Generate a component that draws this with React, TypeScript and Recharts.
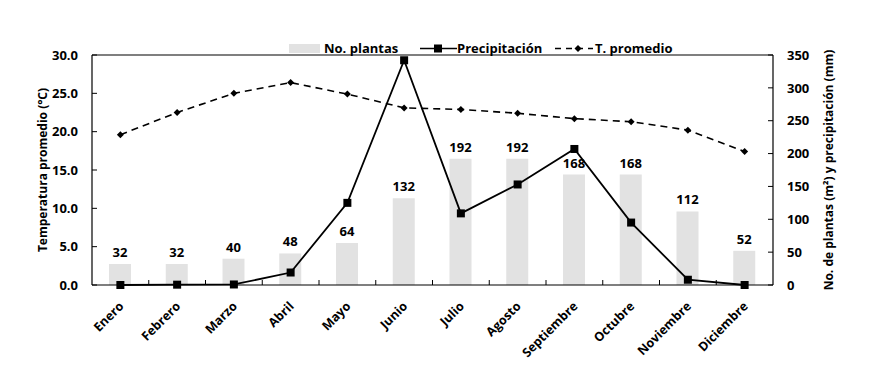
import { ComposedChart, Bar, Line, XAxis, YAxis, LabelList, Legend, ReferenceLine } from 'recharts'

const months = ['Enero', 'Febrero', 'Marzo', 'Abril', 'Mayo', 'Junio', 'Julio', 'Agosto', 'Septiembre', 'Octubre', 'Noviembre', 'Diciembre']
const plantas = [32, 32, 40, 48, 64, 132, 192, 192, 168, 168, 112, 52]
const precipitacion = [0, 0.5, 0.8, 19, 125, 342, 109, 153, 207, 95, 8, 0]
const temperatura = [19.6, 22.5, 25.0, 26.4, 24.9, 23.1, 22.9, 22.4, 21.7, 21.3, 20.2, 17.4]
const leftTicks = [0, 5, 10, 15, 20, 25, 30]
const rightTicks = [0, 50, 100, 150, 200, 250, 300, 350]

const data = months.map((m, i) => ({
  month: m,
  plantas: plantas[i],
  precip: precipitacion[i],
  temp: temperatura[i],
}))

const CHART_W = 869
const CHART_H = 366
const MARGIN = { top: 31, right: 36, left: 32, bottom: 21 }
const XAXIS_H = 60
const AXIS_Y = CHART_H - MARGIN.bottom - XAXIS_H

const FONT = '"Open Sans", sans-serif'
const numStyle = { fontFamily: FONT, fontSize: 13, fontWeight: 700, fill: '#000' }
const textStyle = { fontFamily: FONT, fontSize: 12.5, fontWeight: 700, fill: '#000' }

// month label plus an inward tick at the left edge of each category band
const MonthTick = ({ x, payload, index }: any) => {
  const half = payload.offset || 0
  const ax = x + 4
  const ay = AXIS_Y + 22
  return (
    <g>
      {index > 0 && <line x1={x - half} y1={AXIS_Y} x2={x - half} y2={AXIS_Y - 5} stroke="#000" />}
      <g transform={`translate(${ax}, ${ay}) rotate(-45)`}>
        <text x={0} y={0} textAnchor="end" style={textStyle}>
          {payload.value}
        </text>
      </g>
    </g>
  )
}

const LeftTick = ({ x, y, payload }: any) => (
  <g>
    <line x1={x} y1={y} x2={x + 5} y2={y} stroke="#000" />
    <text x={x - 14} y={y} dy="0.36em" textAnchor="end" style={numStyle}>
      {payload.value.toFixed(1)}
    </text>
  </g>
)

const RightTick = ({ x, y, payload }: any) => (
  <g>
    <line x1={x} y1={y} x2={x - 5} y2={y} stroke="#000" />
    <text x={x + 14} y={y} dy="0.36em" textAnchor="start" style={numStyle}>
      {payload.value}
    </text>
  </g>
)

const SquareDot = ({ cx, cy }: any) => (
  <rect x={cx - 4} y={cy - 4} width={8} height={8} fill="#000" />
)

const DiamondDot = ({ cx, cy }: any) => (
  <path d={`M${cx},${cy - 3.5} L${cx + 3.5},${cy} L${cx},${cy + 3.5} L${cx - 3.5},${cy} Z`} fill="#000" />
)

const CustomLegend = () => (
  <svg width={400} height={20} style={{ overflow: 'visible' }}>
    <rect x={0} y={5} width={31} height={9} fill="#e2e2e2" />
    <text x={35} y={14} style={numStyle}>No. plantas</text>
    <line x1={131} y1={9.5} x2={168} y2={9.5} stroke="#000" strokeWidth={1.5} />
    <rect x={145} y={5.5} width={8} height={8} fill="#000" />
    <text x={168} y={14} style={numStyle}>Precipitación</text>
    <line x1={266} y1={9.5} x2={304} y2={9.5} stroke="#000" strokeWidth={1.5} strokeDasharray="6 5" />
    <path d="M289,6 L292.5,9.5 L289,13 L285.5,9.5 Z" fill="#000" />
    <text x={306} y={14} style={numStyle}>T. promedio</text>
  </svg>
)

export default function App() {
  return (
    <div style={{ position: 'absolute', left: 0, top: 0, background: '#fff' }}>
      <ComposedChart width={CHART_W} height={CHART_H} data={data} margin={MARGIN}>
        <XAxis
          xAxisId="cat"
          dataKey="month"
          height={XAXIS_H}
          interval={0}
          axisLine={{ stroke: '#000', strokeWidth: 1.2 }}
          tickLine={false}
          tickSize={0}
          tickMargin={0}
          tick={<MonthTick />}
        />
        <YAxis
          yAxisId="left"
          orientation="left"
          width={60}
          domain={[0, 30]}
          ticks={leftTicks}
          tickLine={false}
          tickSize={0}
          tickMargin={0}
          tick={<LeftTick />}
          axisLine={{ stroke: '#000', strokeWidth: 1.2 }}
          label={{
            value: 'Temperatura promedio (°C)',
            angle: -90,
            position: 'insideLeft',
            offset: 11,
            style: { ...textStyle, fontSize: 12, textAnchor: 'middle' },
          }}
        />
        <YAxis
          yAxisId="right"
          orientation="right"
          width={60}
          domain={[0, 350]}
          ticks={rightTicks}
          tickLine={false}
          tickSize={0}
          tickMargin={0}
          tick={<RightTick />}
          axisLine={{ stroke: '#000', strokeWidth: 1.2 }}
          label={{
            value: 'No. de plantas (m²) y precipitación (mm)',
            angle: -90,
            position: 'insideRight',
            offset: 4,
            style: { ...textStyle, fontSize: 12, textAnchor: 'middle' },
          }}
        />
        <ReferenceLine xAxisId="cat" yAxisId="right" y={350} stroke="#000" strokeWidth={1.2} />
        <Legend
          verticalAlign="top"
          content={<CustomLegend />}
          wrapperStyle={{ top: 39, left: 289, width: 400 }}
        />
        <Bar
          xAxisId="cat"
          yAxisId="right"
          dataKey="plantas"
          name="No. plantas"
          fill="#e2e2e2"
          barSize={22}
          isAnimationActive={false}
        >
          <LabelList dataKey="plantas" position="top" offset={7} style={numStyle} />
        </Bar>
        <Line
          xAxisId="cat"
          yAxisId="right"
          dataKey="precip"
          name="Precipitación"
          type="linear"
          stroke="#000"
          strokeWidth={1.8}
          dot={<SquareDot />}
          activeDot={false}
          isAnimationActive={false}
        />
        <Line
          xAxisId="cat"
          yAxisId="left"
          dataKey="temp"
          name="T. promedio"
          type="linear"
          stroke="#000"
          strokeWidth={1.6}
          strokeDasharray="7 5"
          dot={<DiamondDot />}
          activeDot={false}
          isAnimationActive={false}
        />
      </ComposedChart>
    </div>
  )
}
